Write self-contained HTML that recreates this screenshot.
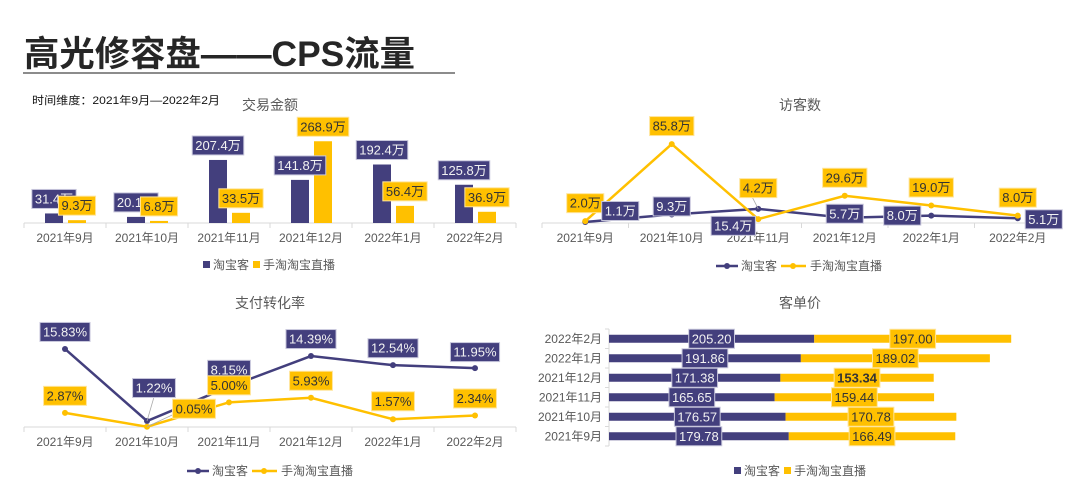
<!DOCTYPE html>
<html><head><meta charset="utf-8"><style>
html,body{margin:0;padding:0;background:#fff;}
svg{display:block;font-family:"Liberation Sans","Noto Sans CJK SC",sans-serif;}
</style></head><body>
<svg id="s" width="1080" height="494" viewBox="0 0 1080 494" xmlns="http://www.w3.org/2000/svg">
<text x="24" y="66" font-size="35" font-weight="bold" fill="#262626" textLength="391" lengthAdjust="spacingAndGlyphs">高光修容盘——CPS流量</text>
<rect x="23" y="72" width="432" height="2" fill="#8c8c8c"/>
<text x="32" y="104" font-size="11" fill="#111" textLength="188" lengthAdjust="spacingAndGlyphs">时间维度：2021年9月—2022年2月</text>
</svg>
<script>
const months = ['2021年9月','2021年10月','2021年11月','2021年12月','2022年1月','2022年2月'];
const gmvTbk = [31.4,20.1,207.4,141.8,192.4,125.8];
const gmvLive = [9.3,6.8,33.5,268.9,56.4,36.9];
const uvTbk = [1.1,9.3,15.4,5.7,8.0,5.1];
const uvLive = [2.0,85.8,4.2,29.6,19.0,8.0];
const uvTbkLabels = ['1.1万','9.3万','15.4万','5.7万','8.0万','5.1万'];
const uvLiveLabels = ['2.0万','85.8万','4.2万','29.6万','19.0万','8.0万'];
const cvrTbk = [15.83,1.22,8.15,14.39,12.54,11.95];
const cvrLive = [2.87,0.05,5.00,5.93,1.57,2.34];
const atvTbk = [179.78,176.57,165.65,171.38,191.86,205.20];
const atvLive = [166.49,170.78,159.44,153.34,189.02,197.00];

const BLUE='#433f7d', YEL='#ffc000', GREY='#595959', AX='#d9d9d9';
const svg=document.getElementById('s');
const NS='http://www.w3.org/2000/svg';
function mk(tag,attrs,parent){const e=document.createElementNS(NS,tag);for(const k in attrs)e.setAttribute(k,attrs[k]);(parent||svg).appendChild(e);return e;}
function txt(x,y,s,size,fill,anchor,parent){const t=mk('text',{x:x,y:y,'font-size':size,fill:fill,'text-anchor':anchor||'middle'},parent);t.textContent=s;return t;}
function label(cx,cy,s,type,parent,bold){
  const g=mk('g',{},parent);
  
  
  const r=mk('rect',{},g);
  const t=txt(cx,cy+4.5,s,13,type==='b'?'#f2f2f2':'#333',"middle",g);
  if(bold)t.setAttribute('font-weight','bold');
  const w=t.getComputedTextLength()+6;
  r.setAttribute('x',cx-w/2);r.setAttribute('y',cy-9.5);r.setAttribute('width',w);r.setAttribute('height',19);
  r.setAttribute('fill',type==='b'?BLUE:YEL);r.setAttribute('stroke',type==='b'?'#c8c7dc':'#ffe59a');r.setAttribute('stroke-width','1');
}
function title(x,y,s){const t=txt(x,y,s,14,GREY);}
function catAxis(x0,band,base,g){
  mk('line',{x1:x0,y1:base,x2:x0+band*6,y2:base,stroke:AX,'stroke-width':1},g);
  for(let i=0;i<=6;i++)mk('line',{x1:x0+band*i,y1:base,x2:x0+band*i,y2:base+5,stroke:AX},g);
  months.forEach((m,i)=>{const t=txt(x0+band*(i+0.5),base+19,m,12,GREY,'middle',g);});
}
function legend(x,y,kind,g){
  const lg=mk('g',{},g);
  
  
  if(kind==='sq'){
    mk('rect',{x:x,y:y-4,width:7,height:7,fill:BLUE},lg);txt(x+10,y+4,'淘宝客',12,GREY,'start',lg);
    mk('rect',{x:x+50,y:y-4,width:7,height:7,fill:YEL},lg);txt(x+60,y+4,'手淘淘宝直播',12,GREY,'start',lg);
  }else{
    mk('line',{x1:x,y1:y,x2:x+22,y2:y,stroke:BLUE,'stroke-width':2.5},lg);mk('circle',{cx:x+11,cy:y,r:3,fill:BLUE},lg);
    txt(x+25,y+4,'淘宝客',12,GREY,'start',lg);
    mk('line',{x1:x+65,y1:y,x2:x+90,y2:y,stroke:YEL,'stroke-width':2.5},lg);mk('circle',{cx:x+77,cy:y,r:3,fill:YEL},lg);
    txt(x+94,y+4,'手淘淘宝直播',12,GREY,'start',lg);
  }
}
function group(name){const g=mk('g',{});return g;}

// Chart 1: GMV bars
(function(){
  const g=group('gmv-chart');
  const x0=24,band=82,base=223,k=0.304;
  const xc=i=>x0+band*(i+0.5), y=v=>base-v*k;
  title(270,110,'交易金额');
  catAxis(x0,band,base,g);
  gmvTbk.forEach((v,i)=>{const r=mk('rect',{x:xc(i)-20,y:y(v),width:18,height:base-y(v),fill:BLUE},g);});
  gmvLive.forEach((v,i)=>{const r=mk('rect',{x:xc(i)+3,y:y(v),width:18,height:base-y(v),fill:YEL},g);});
  gmvTbk.forEach((v,i)=>label(xc(i)-11,y(v)-14.5,v.toFixed(1)+'万','b',g));
  gmvLive.forEach((v,i)=>label(xc(i)+12,y(v)-14.5,v.toFixed(1)+'万','y',g));
  legend(203,265,'sq',g);
})();

// Chart 2: UV lines
(function(){
  const g=group('uv-chart');
  const x0=542,band=86.5,base=223,k=0.92;
  const xc=i=>x0+band*(i+0.5), y=v=>base-v*k;
  title(800,110,'访客数');
  catAxis(x0,band,base,g);
  const pts=a=>a.map((v,i)=>xc(i)+','+y(v)).join(' ');
  const lb=mk('polyline',{points:pts(uvTbk),fill:'none',stroke:BLUE,'stroke-width':2.5},g);
  const ly=mk('polyline',{points:pts(uvLive),fill:'none',stroke:YEL,'stroke-width':2.5},g);
  uvTbk.forEach((v,i)=>mk('circle',{cx:xc(i),cy:y(v),r:3,fill:BLUE},g));
  uvLive.forEach((v,i)=>mk('circle',{cx:xc(i),cy:y(v),r:3,fill:YEL},g));
  const ydy=[-18,-18,-31,-18,-18,-18];
  const bdx=[35,0,-25,0,-29,26], bdy=[-11,-8,17,-4,0,1];
  mk('line',{x1:xc(2),y1:y(uvTbk[2]),x2:xc(2)-6,y2:y(uvLive[2])-22,stroke:'#aaa','stroke-width':0.8},g);
  uvLiveLabels.forEach((s,i)=>label(xc(i),y(uvLive[i])+ydy[i],s,'y',g));
  uvTbkLabels.forEach((s,i)=>label(xc(i)+bdx[i],y(uvTbk[i])+bdy[i],s,'b',g));
  legend(716,266,'ln',g);
})();

// Chart 3: conversion lines
(function(){
  const g=group('cvr-chart');
  const x0=24,band=82,base=427,k=4.93;
  const xc=i=>x0+band*(i+0.5), y=v=>base-v*k;
  title(270,308,'支付转化率');
  catAxis(x0,band,base,g);
  const pts=a=>a.map((v,i)=>xc(i)+','+y(v)).join(' ');
  const lb=mk('polyline',{points:pts(cvrTbk),fill:'none',stroke:BLUE,'stroke-width':2.5},g);
  const ly=mk('polyline',{points:pts(cvrLive),fill:'none',stroke:YEL,'stroke-width':2.5},g);
  cvrTbk.forEach((v,i)=>mk('circle',{cx:xc(i),cy:y(v),r:3,fill:BLUE},g));
  cvrLive.forEach((v,i)=>mk('circle',{cx:xc(i),cy:y(v),r:3,fill:YEL},g));
  mk('line',{x1:xc(1),y1:y(cvrTbk[1]),x2:xc(1)+7,y2:y(cvrTbk[1])-24,stroke:'#aaa','stroke-width':0.8},g);
  mk('line',{x1:xc(1),y1:y(cvrLive[1]),x2:xc(1)+30,y2:y(cvrLive[1])-14,stroke:'#aaa','stroke-width':0.8},g);
  const bdx=[0,7,0,0,0,0], bdy=[-17,-33,-17,-17,-17,-16];
  const ydx=[0,47,0,0,0,0], ydy=[-17,-18,-17,-17,-18,-17];
  cvrTbk.forEach((v,i)=>label(xc(i)+bdx[i],y(v)+bdy[i],v.toFixed(2)+'%','b',g));
  cvrLive.forEach((v,i)=>label(xc(i)+ydx[i],y(v)+ydy[i],v.toFixed(2)+'%','y',g));
  legend(187,471,'ln',g);
})();

// Chart 4: ATV stacked horizontal bars
(function(){
  const g=group('atv-chart');
  const ax=609,k=1.0,top=329,row=19.5;
  const yc=i=>top+row*(5-i+0.5);
  title(800,308,'客单价');
  mk('line',{x1:ax,y1:top,x2:ax,y2:top+row*6,stroke:AX},g);
  for(let i=0;i<=6;i++)mk('line',{x1:ax-4,y1:top+row*i,x2:ax,y2:top+row*i,stroke:AX},g);
  months.forEach((m,i)=>{const t=txt(602,yc(i)+4,m,12,GREY,'end',g);});
  atvTbk.forEach((v,i)=>{const r=mk('rect',{x:ax,y:yc(i)-4,width:v*k,height:8,fill:BLUE},g);});
  atvLive.forEach((v,i)=>{const r=mk('rect',{x:ax+atvTbk[i]*k,y:yc(i)-4,width:v*k,height:8,fill:YEL},g);});
  atvTbk.forEach((v,i)=>label(ax+v*k/2,yc(i),v.toFixed(2),'b',g));
  atvLive.forEach((v,i)=>label(ax+atvTbk[i]*k+v*k/2,yc(i),v.toFixed(2),'y',g,i===3));
  legend(734,471,'sq',g);
})();
</script>
</body></html>
